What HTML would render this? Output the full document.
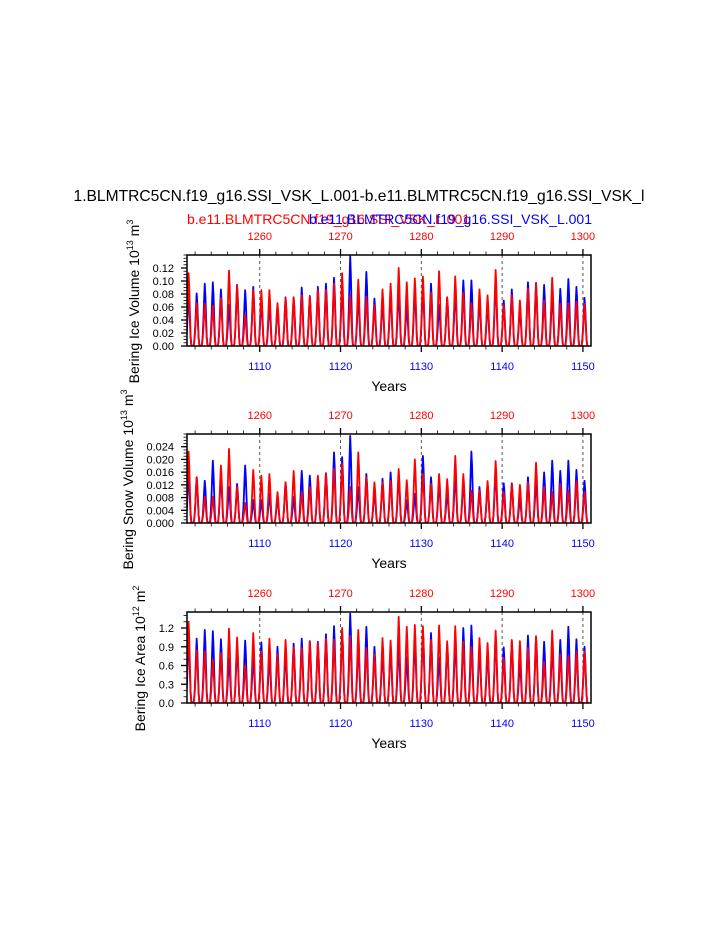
<!DOCTYPE html>
<html><head><meta charset="utf-8"><style>
body{margin:0;background:#fff;}
svg text{font-family:"Liberation Sans",sans-serif;}
</style></head><body>
<svg id="chart" width="723" height="935" viewBox="0 0 723 935" xmlns="http://www.w3.org/2000/svg">
<rect width="723" height="935" fill="#fff"/>
<text x="359" y="201" font-size="15.6" text-anchor="middle">1.BLMTRC5CN.f19_g16.SSI_VSK_L.001-b.e11.BLMTRC5CN.f19_g16.SSI_VSK_l</text>
<text x="187" y="224" font-size="14" fill="#ff0000">b.e11.BLMTRC5CN.f19_g16.SSI_VSK_L.001</text>
<text x="592" y="224" font-size="14" fill="#0000ff" text-anchor="end">b.e11.BLMTRC5CN.f19_g16.SSI_VSK_L.001</text>
</svg>
<script>
const years = [];
for (let y = 1101; y <= 1150; y++) years.push(y);
const xTicksBottom = [1110,1120,1130,1140,1150];
const xTicksTop = [1260,1270,1280,1290,1300];
const seasonalTemplate = [0,0.04,0.18,0.42,0.74,1,0.8,0.46,0.15,0.02,0,0];

const iceRed = [0.112,0.066,0.065,0.062,0.074,0.116,0.093,0.048,0.086,0.086,0.086,0.066,0.074,0.075,0.078,0.076,0.086,0.086,0.096,0.112,0.078,0.102,0.076,0.063,0.087,
0.096,0.12,0.098,0.104,0.107,0.082,0.115,0.075,0.107,0.082,0.066,0.087,0.078,0.117,0.063,0.078,0.070,0.088,0.096,0.070,0.105,0.065,0.066,0.068,0.065];
const iceBlue = [0.081,0.081,0.096,0.098,0.087,0.063,0.094,0.086,0.091,0.070,0.066,0.063,0.075,0.075,0.090,0.077,0.091,0.096,0.105,0.090,0.138,0.078,0.114,0.073,0.070,
0.082,0.086,0.063,0.086,0.091,0.096,0.063,0.075,0.086,0.101,0.101,0.075,0.066,0.100,0.070,0.087,0.058,0.098,0.097,0.094,0.082,0.088,0.103,0.091,0.074];
const snowRed = [0.0225,0.0144,0.0082,0.0082,0.0181,0.0233,0.0113,0.0063,0.0167,0.0149,0.0154,0.0097,0.0128,0.0164,0.0097,0.0113,0.0149,0.0157,0.0170,0.0186,0.0113,0.0222,0.0144,0.0128,0.0128,
0.0133,0.0170,0.0135,0.0200,0.0154,0.0123,0.0154,0.0138,0.0211,0.0154,0.0102,0.0102,0.0132,0.0195,0.0097,0.0123,0.0120,0.0128,0.0190,0.0113,0.0097,0.0123,0.0102,0.0133,0.0097];
const snowBlue = [0.0154,0.0144,0.0133,0.0196,0.0154,0.0113,0.0123,0.0181,0.0072,0.0072,0.0092,0.0082,0.0128,0.0082,0.0164,0.0149,0.0144,0.0157,0.0222,0.0207,0.0274,0.0113,0.0154,0.0102,0.0139,
0.0159,0.0149,0.0072,0.0092,0.0211,0.0144,0.0128,0.0097,0.0154,0.0133,0.0225,0.0113,0.0123,0.0164,0.0125,0.0125,0.0077,0.0144,0.0133,0.0159,0.0196,0.0164,0.0196,0.0167,0.0133];
const areaRed = [1.30,0.84,0.83,0.69,0.80,1.19,1.05,0.60,1.12,0.83,1.03,0.78,1.01,0.89,0.88,0.99,0.96,1.03,1.01,1.20,1.07,1.17,0.88,0.78,1.04,
1.00,1.38,1.22,1.25,1.23,1.01,1.24,0.99,1.23,0.98,0.90,1.04,0.96,1.16,0.72,1.01,0.99,0.88,1.07,0.66,1.16,0.78,0.75,0.83,0.83];
const areaBlue = [1.04,1.03,1.17,1.15,1.02,0.72,0.92,1.00,0.75,0.97,0.75,0.90,0.82,0.95,1.03,0.99,0.98,1.10,1.23,1.15,1.43,0.92,1.22,0.90,0.85,
0.88,0.93,0.73,1.01,1.14,1.12,0.73,0.94,0.99,1.20,1.24,0.88,0.83,1.07,0.89,0.99,0.66,1.08,1.04,0.98,0.91,1.01,1.22,1.02,0.90];

const iceTicks = [0,0.02,0.04,0.06,0.08,0.10,0.12];
const iceLabels = ["0.00","0.02","0.04","0.06","0.08","0.10","0.12"];
const snowTicks = [0,0.004,0.008,0.012,0.016,0.020,0.024];
const snowLabels = ["0.000","0.004","0.008","0.012","0.016","0.020","0.024"];
const areaTicks = [0,0.3,0.6,0.9,1.2];
const areaLabels = ["0.0","0.3","0.6","0.9","1.2"];

const NS = "http://www.w3.org/2000/svg";
const svg = document.getElementById('chart');
function mk(tag, attrs, parent){const e=document.createElementNS(NS,tag);for(const k in attrs)e.setAttribute(k,attrs[k]);(parent||svg).appendChild(e);return e;}

const X0=187,X1=591,T0=1101,T1=1151;
function xs(t){return X0+(t-T0)/(T1-T0)*(X1-X0);}

function panel(name, top, bottom, ymax, ticks, labels, minorStep, red, blue, labelParts){
  const g = mk('g',{});
  
  
  const ys = v => bottom-(v/ymax)*(bottom-top);
  const clipId='clip-'+name;
  const cp=mk('clipPath',{id:clipId},g);mk('rect',{x:X0,y:top,width:X1-X0,height:bottom-top},cp);
  xTicksBottom.forEach(t=>{
    const l=mk('line',{x1:xs(t),x2:xs(t),y1:top,y2:bottom,stroke:'#555','stroke-width':1,'stroke-dasharray':'3,3'},g);
    
    
  });
  function series(vals,color,sname){
    let pts=[];
    vals.forEach((p,i)=>{
      for(let k=-6;k<6;k++){
        const t=years[i]+0.28+k/12;
        pts.push(xs(t).toFixed(2)+','+ys(p*seasonalTemplate[k+6]).toFixed(2));
      }
    });
    const pl=mk('polyline',{points:pts.join(' '),fill:'none',stroke:color,'stroke-width':1.8,'stroke-linejoin':'round','clip-path':'url(#'+clipId+')'},g);
    
    
  }
  series(blue,'#0000ff',name+'-blue-series');
  series(red,'#ff0000',name+'-red-series');
  const fr=mk('rect',{x:X0,y:top,width:X1-X0,height:bottom-top,fill:'none',stroke:'#000','stroke-width':1.5},g);
  
  
  for(let t=1102;t<=1150;t+=2){
    const major = xTicksBottom.includes(t);
    const len = major?6:3.5;
    mk('line',{x1:xs(t),x2:xs(t),y1:bottom,y2:bottom+len,stroke:'#000','stroke-width':major?1.3:0.8},g);
    mk('line',{x1:xs(t),x2:xs(t),y1:top,y2:top-len,stroke:'#000','stroke-width':major?1.3:0.8},g);
  }
  xTicksBottom.forEach(t=>{
    const tx=mk('text',{x:xs(t),y:bottom+24,'font-size':11,fill:'#0000ff','text-anchor':'middle'},g);
    tx.textContent=t;
    
    
  });
  xTicksTop.forEach((t,i)=>{
    const tx=mk('text',{x:xs(xTicksBottom[i]),y:top-15,'font-size':11,fill:'#ff0000','text-anchor':'middle'},g);
    tx.textContent=t;
    
    
  });
  const xt=mk('text',{x:389,y:bottom+45,'font-size':14,'text-anchor':'middle'},g);
  xt.textContent='Years';
  
  
  for(let v=0; v<=ymax+1e-9; v+=minorStep){
    mk('line',{x1:X0,x2:X0-3.5,y1:ys(v),y2:ys(v),stroke:'#000','stroke-width':0.8},g);
  }
  ticks.forEach((v,i)=>{
    mk('line',{x1:X0,x2:X0-6,y1:ys(v),y2:ys(v),stroke:'#000','stroke-width':1.3},g);
    const tx=mk('text',{x:X0-13,y:ys(v)+4,'font-size':11,'text-anchor':'end'},g);
    tx.textContent=labels[i];
    
    
  });
  const cy=(top+bottom)/2+1;
  const yt=mk('text',{x:0,y:0,'font-size':14,'text-anchor':'middle',transform:'translate('+labelParts[0]+','+cy+') rotate(-90)'},g);
  
  
  const a=mk('tspan',{},yt);a.textContent=labelParts[1]+' 10';
  const b=mk('tspan',{'font-size':9,dy:-6},yt);b.textContent=labelParts[2];
  const c=mk('tspan',{dy:6},yt);c.textContent=' m';
  const d=mk('tspan',{'font-size':9,dy:-6},yt);d.textContent=labelParts[3];
}
panel('ice-volume',255,346,0.14,iceTicks,iceLabels,0.005,iceRed,iceBlue,[139,'Bering Ice Volume','13','3']);
panel('snow-volume',434,523,0.028,snowTicks,snowLabels,0.001,snowRed,snowBlue,[133,'Bering Snow Volume','13','3']);
panel('ice-area',612,703,1.456,areaTicks,areaLabels,0.1,areaRed,areaBlue,[145,'Bering Ice Area','12','2']);
</script>
</body></html>
